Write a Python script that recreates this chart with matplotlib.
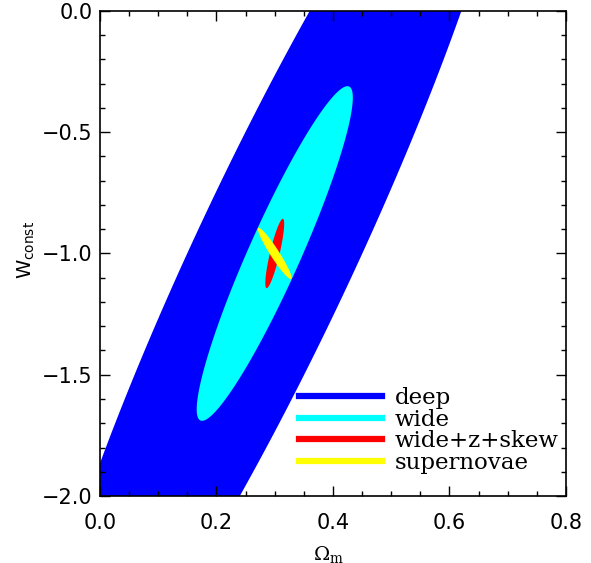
import numpy as np
import matplotlib
matplotlib.use("Agg")
import matplotlib.pyplot as plt
from matplotlib.ticker import MultipleLocator

# fiducial model
om_fid = 0.3
w_fid = -1.0

# contour sizes (half-extents of the plotted contour)
labels = ["deep", "wide", "wide+z+skew", "supernovae"]
colors = ["#0000ff", "#00ffff", "#ff0000", "#ffff00"]
sig_om = [0.409, 0.134, 0.0162, 0.029]
sig_w = [2.0, 0.69, 0.143, 0.106]
rho = [0.93, 0.931, 0.854, -0.95]


def ellipse(sx, sy, r, n=400):
    t = np.linspace(0, 2 * np.pi, n)
    x = om_fid + sx * np.cos(t)
    y = w_fid + sy * (r * np.cos(t) + np.sqrt(1 - r ** 2) * np.sin(t))
    return x, y


fig = plt.figure(figsize=(5.91, 5.63), dpi=100)
ax = fig.add_axes([0.1692, 0.119, 0.7885, 0.8615])

for lab, c, sx, sy, r in zip(labels, colors, sig_om, sig_w, rho):
    x, y = ellipse(sx, sy, r)
    ax.fill(x, y, color=c, lw=0)
    ax.plot([], [], color=c, lw=4.5, label=lab)

ax.set_xlim(0.0, 0.8)
ax.set_ylim(-2.0, 0.0)
ax.xaxis.set_major_locator(MultipleLocator(0.2))
ax.xaxis.set_minor_locator(MultipleLocator(0.05))
ax.yaxis.set_major_locator(MultipleLocator(0.5))
ax.yaxis.set_minor_locator(MultipleLocator(0.1))
ax.tick_params(which="both", direction="in", top=True, right=True, width=1)
ax.tick_params(which="major", length=7.5, labelsize=15)
ax.tick_params(which="minor", length=3.8)
ax.tick_params(axis="x", which="major", pad=12)
ax.tick_params(axis="y", which="major", pad=5.5)
for s in ax.spines.values():
    s.set_linewidth(1.2)

ax.set_xlabel(r"$\Omega_{\rm m}$", fontsize=14, math_fontfamily="dejavuserif")
ax.xaxis.set_label_coords(0.49, -0.098)
ax.set_ylabel(r"W$_{\rm const}$", fontsize=14)
ax.yaxis.set_label_coords(-0.135, 0.507)

leg = ax.legend(loc="lower left", bbox_to_anchor=(0.427, 0.046), frameon=False,
                prop={"family": "DejaVu Serif", "size": 16.5},
                handlelength=3.62, handletextpad=0.57, labelspacing=-0.02,
                borderpad=0, borderaxespad=0)

fig.savefig("out.png", dpi=100)
